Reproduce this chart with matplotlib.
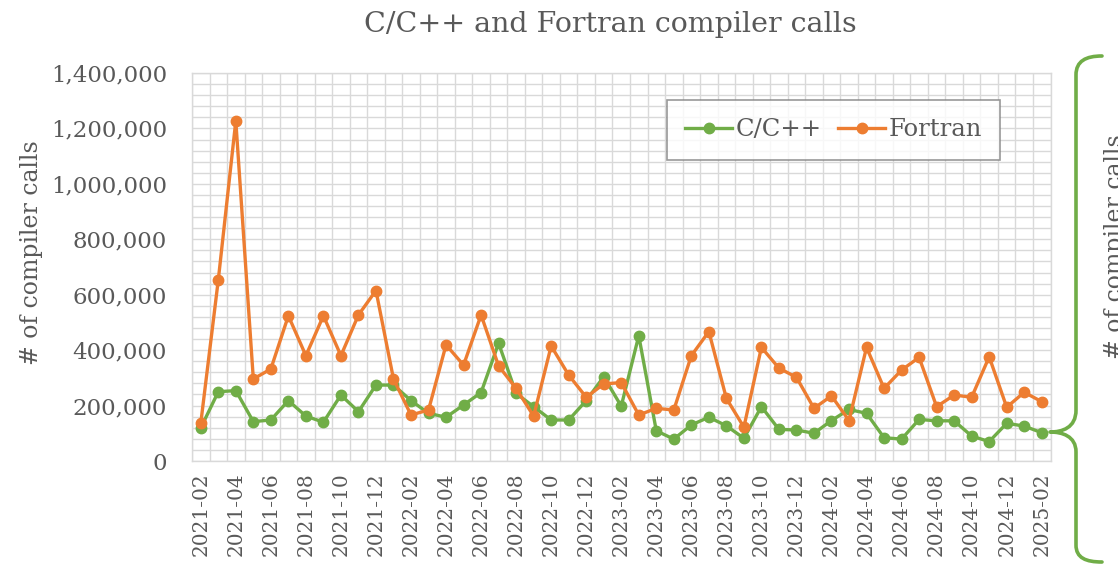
import matplotlib
matplotlib.use("Agg")
import matplotlib.pyplot as plt
from matplotlib.path import Path
from matplotlib.patches import PathPatch
from matplotlib.ticker import FuncFormatter, MultipleLocator, FixedLocator

# Monthly compiler call counts, 2021-02 .. 2025-02
months = [f"{y}-{m:02d}" for y in range(2021, 2026) for m in range(1, 13)]
months = months[months.index("2021-02"):months.index("2025-02") + 1]

c_cpp = [
    119000, 250000, 254000, 142000, 148000, 218000, 162000, 140000, 238000, 178000, 274000,
    274000, 218000, 172000, 158000, 202000, 247000, 425000, 244000, 196000, 148000, 148000, 218000,
    304000, 198000, 452000, 109000, 79000, 130000, 158000, 127000, 82000, 196000, 114000, 112000,
    100000, 146000, 186000, 172000, 84000, 79000, 150000, 145000, 145000, 90000, 70000, 136000,
    126000, 102000,
]
fortran = [
    136000, 653000, 1227000, 296000, 332000, 524000, 380000, 524000, 380000, 527000, 615000,
    296000, 166000, 184000, 419000, 346000, 527000, 343000, 262000, 162000, 415000, 310000, 230000,
    278000, 283000, 166000, 190000, 184000, 380000, 467000, 226000, 122000, 410000, 335000, 302000,
    190000, 235000, 146000, 410000, 262000, 328000, 374000, 196000, 238000, 230000, 376000, 194000,
    248000, 214000,
]

GREEN = "#70AD47"
ORANGE = "#ED7D31"
TEXT = "#595959"
GRID = "#D9D9D9"

plt.rcParams["font.family"] = ["DejaVu Serif"]

W, H = 1118, 567
fig = plt.figure(figsize=(W / 100, H / 100), dpi=100)
ax = fig.add_axes([192 / W, 1 - 461 / H, (1050.5 - 192) / W, (461 - 73) / H])

x = list(range(len(months)))
ax.plot(x, c_cpp, color=GREEN, lw=2.4, marker="o", ms=7.5, label="C/C++", zorder=3)
ax.plot(x, fortran, color=ORANGE, lw=2.4, marker="o", ms=7.5, label="Fortran", zorder=3)

ax.set_xlim(-0.5, len(months) - 0.5)
ax.set_ylim(0, 1400000)

ax.yaxis.set_major_locator(MultipleLocator(200000))
ax.yaxis.set_minor_locator(MultipleLocator(40000))
ax.yaxis.set_major_formatter(FuncFormatter(lambda v, p: f"{int(v):,}"))
ax.set_xticks(x[::2])
ax.set_xticklabels(months[::2], rotation=90)
ax.xaxis.set_minor_locator(FixedLocator([i + 0.5 for i in range(-1, len(months))]))

ax.grid(False)
ax.grid(which="minor", color=GRID, lw=1.0, zorder=0)
ax.grid(which="major", axis="y", color=GRID, lw=1.0, zorder=0)
ax.tick_params(which="both", length=0, colors=TEXT)
ax.tick_params(axis="y", labelsize=16.5, pad=18)
ax.tick_params(axis="x", labelsize=14.5, pad=8)
for s in ax.spines.values():
    s.set_color(GRID)
    s.set_linewidth(1.0)

fig.text(20 / W, 1 - 253 / H, "# of compiler calls", fontsize=17, color=TEXT,
         rotation=90, ha="left", va="center")
fig.text(610 / W, 1 - 25 / H, "C/C++ and Fortran compiler calls", fontsize=20.5,
         color=TEXT, ha="center", va="center")

leg = ax.legend(loc="upper right", bbox_to_anchor=(0.941, 0.930), borderaxespad=0,
                ncol=2, fontsize=17.5, frameon=True, fancybox=False, handlelength=1.9,
                handletextpad=0.15, columnspacing=0.7, borderpad=0.75, labelcolor=TEXT)
leg.get_frame().set_edgecolor("#7F7F7F")
leg.get_frame().set_linewidth(1.2)

# Curly brace on the right margin
def fx(px):
    return px / W

def fy(py):
    return 1 - py / H

pts = [
    (1102, 56), (1086, 56), (1076, 61), (1076, 75),
    (1076, 410),
    (1076, 428), (1062, 432), (1050, 432),
    (1062, 432), (1076, 436), (1076, 452),
    (1076, 545),
    (1076, 558), (1086, 562), (1102, 562),
]
codes = [Path.MOVETO, Path.CURVE4, Path.CURVE4, Path.CURVE4,
         Path.LINETO,
         Path.CURVE4, Path.CURVE4, Path.CURVE4,
         Path.CURVE4, Path.CURVE4, Path.CURVE4,
         Path.LINETO,
         Path.CURVE4, Path.CURVE4, Path.CURVE4]
brace = PathPatch(Path([(fx(a), fy(b)) for a, b in pts], codes), transform=fig.transFigure,
                  fill=False, edgecolor=GREEN, lw=2.6, capstyle="round", joinstyle="round")
fig.add_artist(brace)

fig.text(1104 / W, 1 - 247 / H, "# of compiler calls", fontsize=17, color=TEXT,
         rotation=90, ha="left", va="center")

fig.savefig("out.png", dpi=100)
